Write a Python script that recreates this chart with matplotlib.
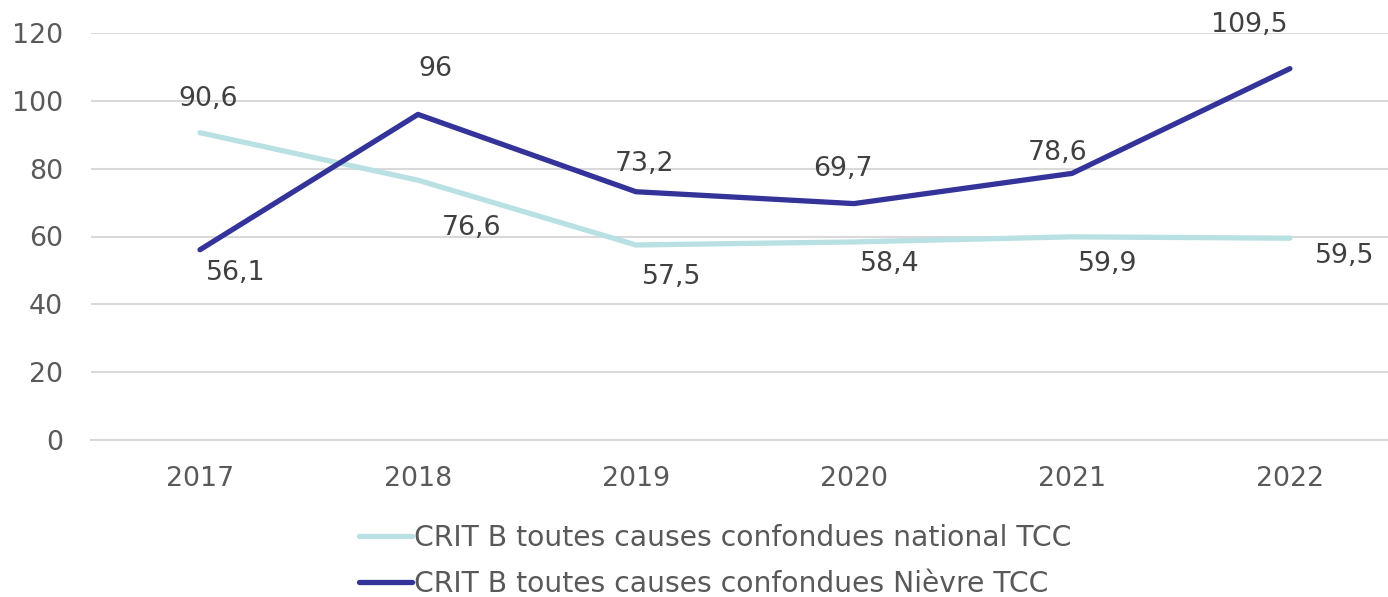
import matplotlib
matplotlib.use("Agg")
import matplotlib.pyplot as plt
from matplotlib.lines import Line2D

years = ["2017", "2018", "2019", "2020", "2021", "2022"]
national = [90.6, 76.6, 57.5, 58.4, 59.9, 59.5]
nievre = [56.1, 96, 73.2, 69.7, 78.6, 109.5]
series_names = ["CRIT B toutes causes confondues national TCC",
                "CRIT B toutes causes confondues Nièvre TCC"]
yticks = [0, 20, 40, 60, 80, 100, 120]

# label offsets in pixels (dx, dy up)
nat_off = [(8, 34), (54, -48), (36, -32), (36, -22), (36, -27), (55, -18)]
nie_off = [(36, -23), (17, 45), (9, 28), (-11, 35), (-14, 20), (-41, 44)]

FAM = 'DejaVu Sans'
FS = 19.3
FS_LEG = 20.3
plt.rcParams['font.family'] = 'sans-serif'
plt.rcParams['font.sans-serif'] = [FAM]
text_color = "#595959"
c_nat = "#b9e0e3"
c_nie = "#333399"

fig = plt.figure(figsize=(13.88, 5.97), dpi=100)
ax = fig.add_axes([91/1388, 1-440/597, 1-91/1388, (440-33)/597])
x = list(range(len(years)))
ax.plot(x, national, color=c_nat, lw=3.8, solid_capstyle='round', zorder=3)
ax.plot(x, nievre, color=c_nie, lw=3.8, solid_capstyle='round', zorder=4)

def fmt(v):
    s = f"{v:g}"
    return s.replace(".", ",")

px = 72 / 100
for xi, v, (dx, dy) in zip(x, national, nat_off):
    ax.annotate(fmt(v), (xi, v), xytext=(dx*px, dy*px), textcoords='offset points',
                ha='center', va='center', fontsize=FS, family=FAM, color="#404040", zorder=5)
for xi, v, (dx, dy) in zip(x, nievre, nie_off):
    ax.annotate(fmt(v), (xi, v), xytext=(dx*px, dy*px), textcoords='offset points',
                ha='center', va='center', fontsize=FS, family=FAM, color="#404040", zorder=5)

ax.set_xlim(-0.5, 5.45)
ax.set_ylim(0, 120)
ax.set_yticks(yticks)
ax.set_xticks(x)
ax.set_xticklabels(years)
for lab in ax.get_xticklabels() + ax.get_yticklabels():
    lab.set_family(FAM)
ax.grid(axis='y', color="#d9d9d9", lw=1.5, zorder=0)
ax.set_axisbelow(True)
for s in ["top", "right", "left"]:
    ax.spines[s].set_visible(False)
ax.spines["bottom"].set_color("#d9d9d9")
ax.spines["bottom"].set_linewidth(1.5)
ax.tick_params(axis='both', length=0, labelsize=FS, labelcolor=text_color)
ax.tick_params(axis='x', pad=19)
ax.tick_params(axis='y', pad=20)

handles = [Line2D([0], [0], color=c_nat, lw=3.8, solid_capstyle='round'),
           Line2D([0], [0], color=c_nie, lw=3.8, solid_capstyle='round')]
leg = fig.legend(handles, series_names, loc='center', bbox_to_anchor=(0.515, 1-561/597),
                 ncol=1, frameon=False, prop={'family': FAM, 'size': FS_LEG},
                 handlelength=1.9, handletextpad=0.05,
                 labelspacing=0.62, borderaxespad=0)
for t in leg.get_texts():
    t.set_color(text_color)

fig.savefig("out.png", dpi=100)
